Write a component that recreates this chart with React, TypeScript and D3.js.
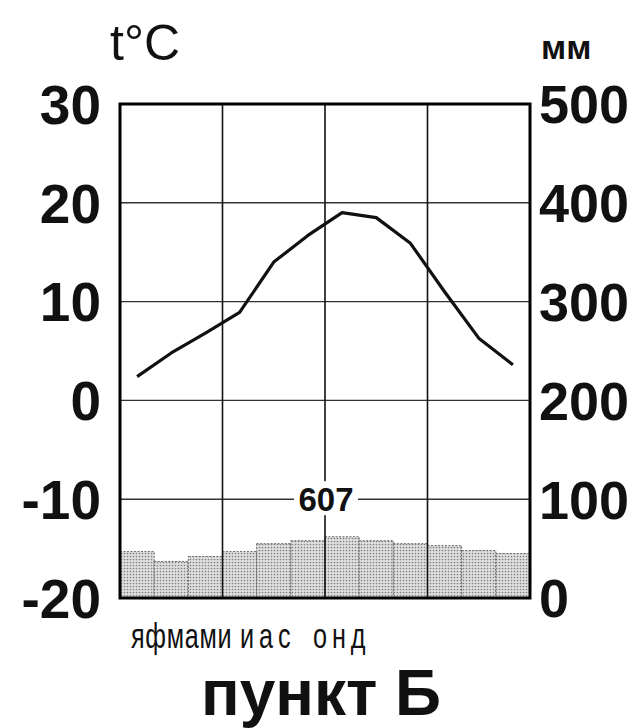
import * as d3 from "d3";

const months = ["я", "ф", "м", "а", "м", "и", "и", "а", "с", "о", "н", "д"];
const temperature = [2.4, 4.8, 6.8, 8.9, 14.0, 16.7, 19.0, 18.5, 15.9, 11.0, 6.3, 3.6];
const precipitation = [47, 37, 42, 47, 55, 58, 62, 58, 55, 53, 48, 45];
const tempTicks = [30, 20, 10, 0, -10, -20];
const precTicks = [500, 400, 300, 200, 100, 0];
const quarterStarts = [3, 6, 9];
const annualTotal = "607";
const tempUnit = "t°C";
const precUnit = "мм";
const stationName = "пункт Б";

const width = 642;
const height = 728;
const plot = { left: 120, right: 530, top: 104, bottom: 598 };
const font = "'Liberation Sans', Arial, sans-serif";

// the month letters sit bunched left of centre in the original, in three runs
const monthRuns = [
  { from: 0, to: 6, x: 131, len: 101 },
  { from: 6, to: 9, x: 240, len: 53 },
  { from: 9, to: 12, x: 313, len: 55 },
];
const monthFontSize = 36;
const monthSqueeze = 0.7;

function measure(text: string, size: number) {
  const ctx = document.createElement("canvas").getContext("2d");
  if (!ctx) return text.length * size * 0.6;
  ctx.font = `${size}px 'Liberation Sans', Arial, sans-serif`;
  return ctx.measureText(text).width;
}

export default function App() {
  const x = d3
    .scaleBand<number>()
    .domain(d3.range(months.length))
    .range([plot.left, plot.right])
    .padding(0);

  const yT = d3.scaleLinear().domain([-20, 30]).range([plot.bottom, plot.top]);
  const yP = d3.scaleLinear().domain([0, 500]).range([plot.bottom, plot.top]);

  const line = d3
    .line<number>()
    .x((_, i) => x(i)! + x.bandwidth() / 2)
    .y((d) => yT(d));

  return (
    <svg width={width} height={height} style={{ position: "absolute", left: 0, top: 0, background: "#fff" }}>
      <defs>
        <pattern id="dots" width="3" height="3" patternUnits="userSpaceOnUse">
          <rect width="3" height="3" fill="#e0e0e0" />
          <circle cx="1.5" cy="1.5" r="0.85" fill="#808080" />
        </pattern>
      </defs>

      {/* precipitation bars */}
      {precipitation.map((d, i) => (
        <rect
          key={i}
          x={x(i)}
          y={yP(d)}
          width={x.bandwidth()}
          height={yP(0) - yP(d)}
          fill="url(#dots)"
          stroke="#5a5a5a"
          strokeWidth={0.9}
          strokeDasharray="2 1.5"
        />
      ))}

      {/* horizontal grid */}
      {tempTicks.slice(1, -1).map((t) => (
        <line key={t} x1={plot.left} x2={plot.right} y1={yT(t)} y2={yT(t)} stroke="#333" strokeWidth={1.4} />
      ))}

      {/* vertical quarter lines */}
      {quarterStarts.map((m) => (
        <line key={m} x1={x(m)} x2={x(m)} y1={plot.top} y2={plot.bottom} stroke="#111" strokeWidth={1.6} />
      ))}

      {/* annual total label */}
      <rect x={294} y={yT(-10) - 18} width={64} height={34} fill="#fff" />
      <text x={326} y={yT(-10) + 12} textAnchor="middle" fontFamily={font} fontWeight="bold" fontSize={33} fill="#111">
        {annualTotal}
      </text>

      {/* temperature line */}
      <path d={line(temperature)!} fill="none" stroke="#111" strokeWidth={3.2} strokeLinejoin="round" />

      {/* frame */}
      <rect
        x={plot.left}
        y={plot.top}
        width={plot.right - plot.left}
        height={plot.bottom - plot.top}
        fill="none"
        stroke="#000"
        strokeWidth={3}
      />

      {/* left axis labels */}
      {tempTicks.map((t) => (
        <text
          key={t}
          x={101}
          y={yT(t)}
          dy="0.36em"
          textAnchor="end"
          fontFamily={font}
          fontWeight="bold"
          fontSize={55}
          fill="#111"
        >
          {t}
        </text>
      ))}

      {/* right axis labels */}
      {precTicks.map((p) => (
        <text key={p} x={539} y={yP(p)} dy="0.36em" fontFamily={font} fontWeight="bold" fontSize={54} fill="#111">
          {p}
        </text>
      ))}

      <text x={110} y={60} fontFamily={font} fontSize={50} fill="#111">
        {tempUnit}
      </text>
      <text x={541} y={59} fontFamily={font} fontWeight="bold" fontSize={34} fill="#111">
        {precUnit}
      </text>

      {monthRuns.map((r) => {
        const label = months.slice(r.from, r.to).join("");
        const natural = measure(label, monthFontSize);
        const n = label.length;
        // extra spacing between letters so the squeezed run fills its width
        const spacing = (r.len / monthSqueeze - natural) / (n - 0.5);
        return (
          <g key={r.from} transform={`translate(${r.x},648) scale(${monthSqueeze},1)`}>
            <text x={0} y={0} fontFamily={font} fontSize={monthFontSize} fill="#111" letterSpacing={spacing}>
              {label}
            </text>
          </g>
        );
      })}

      <text x={321} y={715} textAnchor="middle" fontFamily={font} fontWeight="bold" fontSize={64} fill="#111">
        {stationName}
      </text>
    </svg>
  );
}
